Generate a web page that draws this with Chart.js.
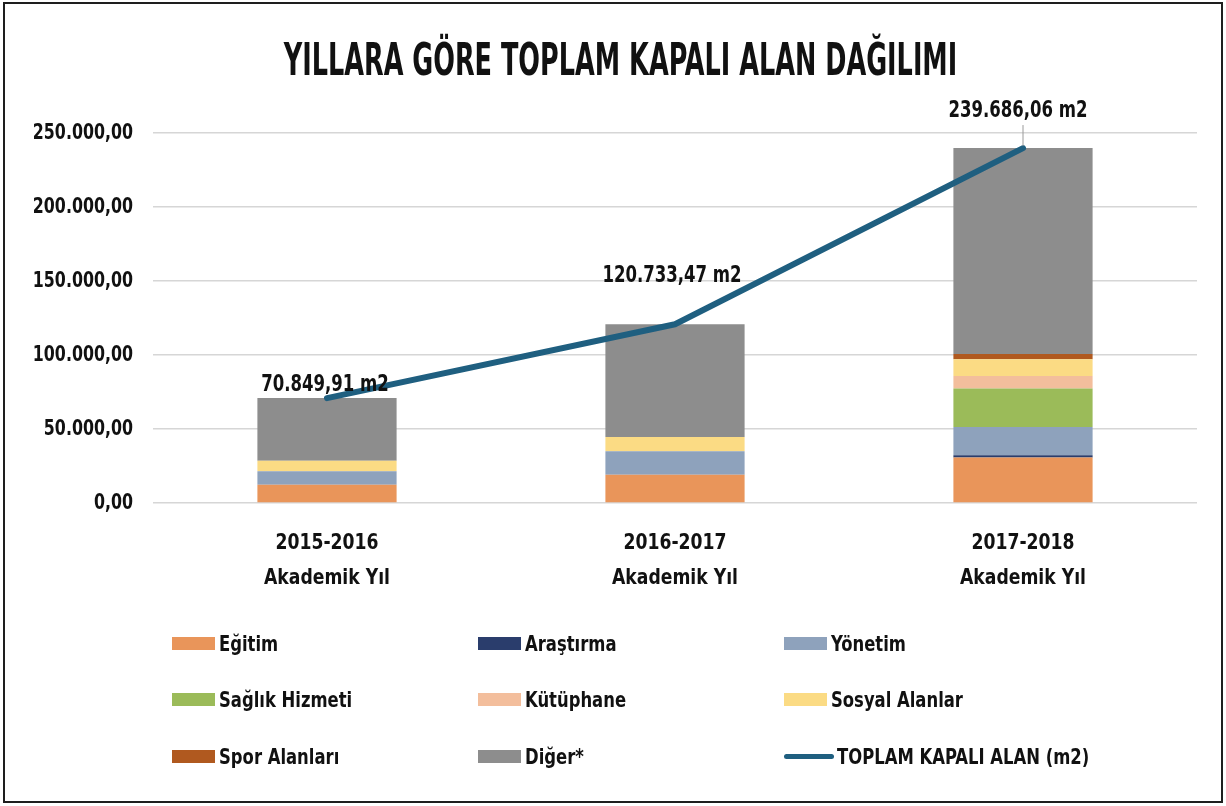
<!DOCTYPE html>
<html>
<head>
<meta charset="utf-8">
<script src="https://cdn.jsdelivr.net/npm/chart.js@4.4.1/dist/chart.umd.min.js"></script>
<style>
html,body{margin:0;padding:0;background:#fff;}
#wrap{position:relative;width:1226px;height:806px;overflow:hidden;background:#fff;}
#frame{position:absolute;left:3px;top:2px;width:1216px;height:797px;border:2px solid #1e1e1e;pointer-events:none;}
#chart{position:absolute;left:0;top:0;}
#legend{position:absolute;left:172px;top:630px;display:grid;grid-template-columns:306px 306px 306px;grid-auto-rows:56.5px;
  font-family:'DejaVu Sans Condensed','DejaVu Sans',sans-serif;font-weight:bold;font-size:22px;color:#111;}
.item{display:flex;align-items:center;height:26px;white-space:nowrap;}
.sw{width:43px;height:13px;margin-right:4px;flex:none;}
.ln{width:50px;height:5px;border-radius:3px;margin-right:3px;flex:none;}
.tx{display:inline-block;transform:scaleX(0.83);transform-origin:0 50%;}
</style>
</head>
<body>
<div id="wrap">
  <canvas id="chart" width="1226" height="806"></canvas>
  <div id="legend"></div>
  <div id="frame"></div>
</div>
<script>
// ---- data ----
const categories = [['2015-2016','Akademik Yıl'],['2016-2017','Akademik Yıl'],['2017-2018','Akademik Yıl']];
const egitim    = [12400, 19100, 30800];
const arastirma = [0, 0, 1500];
const yonetim   = [9000, 15800, 19100];
const saglik    = [0, 0, 26000];
const kutuphane = [0, 0, 8300];
const sosyal    = [7200, 9700, 11300];
const spor      = [0, 0, 3600];
const diger     = [42250, 76133, 139086];
const toplam    = [70849.91, 120733.47, 239686.06];
const yTicks    = [0, 50000, 100000, 150000, 200000, 250000];
const seriesNames = ['Eğitim','Araştırma','Yönetim','Sağlık Hizmeti','Kütüphane','Sosyal Alanlar','Spor Alanları','Diğer*'];
const lineName = 'TOPLAM KAPALI ALAN (m2)';
const titleText = 'YILLARA GÖRE TOPLAM KAPALI ALAN DAĞILIMI';

// ---- styles ----
const FONT = "'DejaVu Sans Condensed','DejaVu Sans',sans-serif";
const colors = ['#E9955A','#2A3D6C','#8EA2BC','#9BBB59','#F3BE9C','#FBDB84','#B0591F','#8D8D8D'];
const lineColor = '#1F5F80';

function fmtTR(v){
  const parts = Number(v).toFixed(2).split('.');
  return parts[0].replace(/\B(?=(\d{3})+(?!\d))/g,'.') + ',' + parts[1];
}

const barSeries = [egitim, arastirma, yonetim, saglik, kutuphane, sosyal, spor, diger];
const datasets = barSeries.map((d,i)=>({
  type:'bar', label: seriesNames[i], data: d, backgroundColor: colors[i],
  stack:'bars', order: 1, categoryPercentage: 0.8, barPercentage: 0.5, borderWidth: 0
}));
datasets.push({
  type:'line', label: lineName, data: toplam, borderColor: lineColor, backgroundColor: lineColor,
  borderWidth: 6, pointRadius: 0, pointHoverRadius: 0, tension: 0, stack:'total', order: 0,
  borderCapStyle:'round', borderJoinStyle:'round'
});

// condensed text rendering: horizontally compress each text run around its anchor
function condense(obj, method, sx, dx){
  if (!obj || obj['__c_' + method]) return;
  const orig = obj[method];
  obj[method] = function(...args){
    const ctx = this.ctx;
    const r = ctx.rotate;
    ctx.rotate = function(a){ r.call(this, a); this.translate(dx || 0, 0); this.scale(sx, 1); };
    try { return orig.apply(this, args); } finally { ctx.rotate = r; }
  };
  obj['__c_' + method] = true;
}
const condensedText = {
  id:'condensedText',
  afterLayout(chart){
    condense(chart.scales.y, 'drawLabels', 0.8, 0);
    condense(chart.scales.x, 'drawLabels', 0.87, 0);
    condense(chart.titleBlock, 'draw', 0.645, 22);
  }
};

const lineLabels = {
  id:'lineLabels',
  afterDatasetsDraw(chart, args, opts){
    const idx = chart.data.datasets.length - 1;
    const meta = chart.getDatasetMeta(idx);
    const ctx = chart.ctx;
    ctx.save();
    ctx.font = 'bold 23px ' + FONT;
    ctx.fillStyle = '#111';
    ctx.textAlign = 'center';
    ctx.textBaseline = 'middle';
    meta.data.forEach((pt,i)=>{
      const x = pt.x + opts.dx[i], y = pt.y + opts.dy[i];
      if (opts.leader[i]) {
        ctx.strokeStyle = '#9a9a9a'; ctx.lineWidth = 1;
        ctx.beginPath(); ctx.moveTo(pt.x, y + 14); ctx.lineTo(pt.x, pt.y - 2); ctx.stroke();
      }
      ctx.save();
      ctx.translate(x, y);
      ctx.scale(opts.sx, 1);
      ctx.fillText(fmtTR(chart.data.datasets[idx].data[i]) + ' m2', 0, 0);
      ctx.restore();
    });
    ctx.restore();
  }
};

const chart = new Chart(document.getElementById('chart'), {
  data: { labels: categories, datasets },
  plugins: [condensedText, lineLabels],
  options: {
    responsive: false,
    animation: false,
    layout: { padding: { top: 0, left: 0, right: 29, bottom: 213 } },
    plugins: {
      legend: { display: false },
      tooltip: { enabled: false },
      title: {
        display: true, text: titleText, color: '#111',
        font: { family: FONT, size: 44, weight: 'bold', lineHeight: 1.2 },
        padding: { top: 37, bottom: 43 }
      },
      lineLabels: { dx: [-2, -3, -5], dy: [-13, -48, -37], leader: [false, false, true], sx: 0.8 }
    },
    scales: {
      x: {
        stacked: true,
        grid: { display: false, drawTicks: false },
        border: { display: false },
        ticks: { color: '#111', padding: 23, font: { family: FONT, size: 22, weight: 'bold', lineHeight: 1.59 } },
        afterFit(s){ s.height = 90; }
      },
      y: {
        stacked: true, min: 0, max: 250000,
        afterBuildTicks(s){ s.ticks = yTicks.map(v=>({value:v})); },
        grid: { color: '#d6d6d6', lineWidth: 1.5, drawTicks: false },
        border: { display: false },
        ticks: { color: '#111', padding: 20, font: { family: FONT, size: 22, weight: 'bold' }, callback: v => fmtTR(v) },
        afterFit(s){ s.width = 153; }
      }
    }
  }
});
chart.draw();

// ---- HTML legend built from the chart's datasets ----
const legendOrder = [0,1,2,3,4,5,6,7,8];
const legendEl = document.getElementById('legend');
legendOrder.forEach(i=>{
  const ds = chart.data.datasets[i];
  const item = document.createElement('div'); item.className = 'item';
  const sw = document.createElement('span');
  sw.className = ds.type === 'line' ? 'ln' : 'sw';
  sw.style.background = ds.type === 'line' ? ds.borderColor : ds.backgroundColor;
  const tx = document.createElement('span'); tx.className = 'tx'; tx.textContent = ds.label;
  item.appendChild(sw); item.appendChild(tx);
  legendEl.appendChild(item);
});
</script>
</body>
</html>
